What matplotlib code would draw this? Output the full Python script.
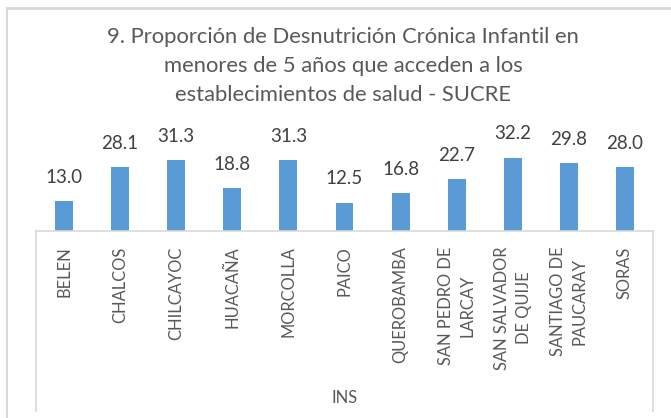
import matplotlib.pyplot as plt
from matplotlib.lines import Line2D

categorias = ["BELEN", "CHALCOS", "CHILCAYOC", "HUACAÑA", "MORCOLLA", "PAICO",
              "QUEROBAMBA", "SAN PEDRO DE\nLARCAY", "SAN SALVADOR\nDE QUIJE",
              "SANTIAGO DE\nPAUCARAY", "SORAS"]
valores = [13.0, 28.1, 31.3, 18.8, 31.3, 12.5, 16.8, 22.7, 32.2, 29.8, 28.0]
grupo = "INS"
titulo = ("9. Proporción de Desnutrición Crónica Infantil en\n"
          "menores de 5 años que acceden a los\n"
          "establecimientos de salud - SUCRE")

plt.rcParams['font.family'] = ['Lato', 'DejaVu Sans']
W, H = 671, 418
fig = plt.figure(figsize=(W / 100, H / 100), dpi=100)

# plot area in pixels: x 36..653, baseline y=231, top y=140 (value 40)
x0, x1, yb, yt = 36, 653, 231, 140
ax = fig.add_axes([x0 / W, 1 - yb / H, (x1 - x0) / W, (yb - yt) / H])
pos = range(len(categorias))
bars = ax.bar(pos, valores, width=0.32, color='#5B9BD5')
ax.set_xlim(-0.5, len(categorias) - 0.5)
ax.set_ylim(0, 40)
for s in ['top', 'right', 'left']:
    ax.spines[s].set_visible(False)
ax.spines['bottom'].set_color('#D9D9D9')
ax.spines['bottom'].set_linewidth(1.2)
ax.set_yticks([])
ax.set_xticks(list(pos))
ax.set_xticklabels(categorias, rotation=90, va='top', ha='center',
                   multialignment='center', fontsize=11.9, color='#595959',
                   linespacing=1.45)
ax.tick_params(axis='x', length=0, pad=11)

for b, v in zip(bars, valores):
    ax.annotate(f"{v:.1f}", (b.get_x() + b.get_width() / 2, v),
                xytext=(0, 11), textcoords='offset points',
                ha='center', va='bottom', fontsize=13.5, color='#404040')

# category box lines and group label
def px(x, y):
    return x / W, 1 - y / H

for xx in (x0, x1):
    fig.add_artist(Line2D([xx / W, xx / W], [1 - yb / H, 1 - 411 / H],
                          color='#D9D9D9', lw=1.2))
fig.text(*px((x0 + x1) / 2, 398), grupo, ha='center', va='center',
         fontsize=11.9, color='#595959')

# outer frame
fig.add_artist(Line2D([6.5 / W, 6.5 / W], [0, 1 - 8 / H], color='#D9D9D9', lw=1.5))
fig.add_artist(Line2D([6.5 / W, 1], [1 - 8 / H, 1 - 8 / H], color='#D9D9D9', lw=2))

fig.text(*px(343, 66), titulo, ha='center', va='center', fontsize=15.8,
         color='#595959', linespacing=1.55)

fig.savefig('out.png', dpi=100)
